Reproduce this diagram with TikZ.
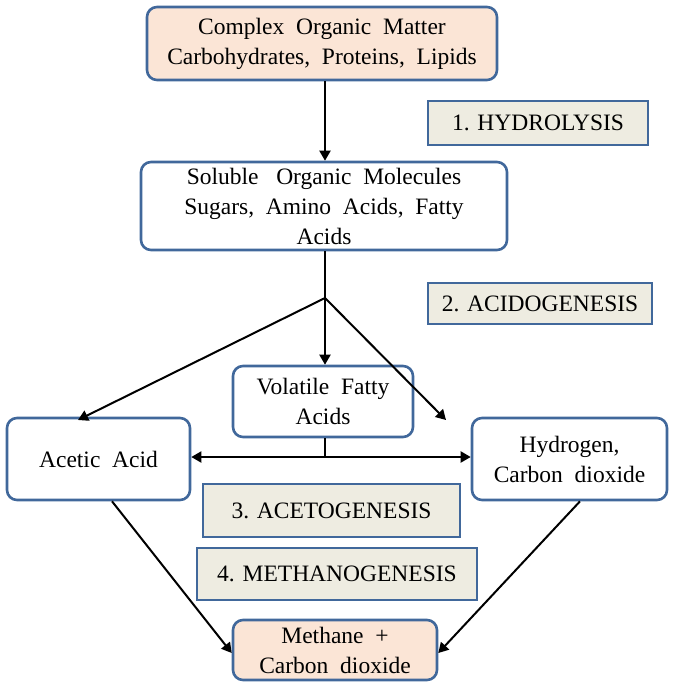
\documentclass[tikz,border=0pt]{standalone}
\usepackage{fontspec}
\setmainfont{Liberation Serif}
\usetikzlibrary{arrows.meta}
\definecolor{boxblue}{HTML}{41689B}
\definecolor{peach}{HTML}{FBE5D6}
\definecolor{stagebg}{HTML}{EEECE1}
\tikzset{
  rbox/.style={draw=boxblue, line width=2.6pt, rounded corners=10pt, align=center,
    font=\fontsize{23.5}{30}\selectfont, inner sep=0pt},
  stagebox/.style={draw=boxblue, line width=2.6pt, fill=stagebg, align=center,
    font=\fontsize{23.5}{28}\selectfont, inner sep=0pt},
  flow/.style={line width=2pt, -{Triangle[length=10pt,width=11pt]}},
  plain/.style={line width=2pt}
}
\begin{document}
\begin{tikzpicture}[x=1pt,y=-1pt]
\useasboundingbox (0,0) rectangle (677,686);
% process boxes
\node[rbox, fill=peach, minimum width=350pt, minimum height=73pt] (com) at (322,43.5)
  {Complex\ \ Organic\ \ Matter\\Carbohydrates,\ \ Proteins,\ \ Lipids};
\node[rbox, fill=white, minimum width=366pt, minimum height=88pt] (sol) at (324,206)
  {Soluble\ \ \ Organic\ \ Molecules\\Sugars,\ \ Amino\ \ Acids,\ \ Fatty\\Acids};
\node[rbox, fill=white, minimum width=180pt, minimum height=71pt] (vfa) at (323,401.5)
  {Volatile\ \ Fatty\\Acids};
\node[rbox, fill=white, minimum width=183pt, minimum height=82pt] (ace) at (98.5,459)
  {Acetic\ \ Acid};
\node[rbox, fill=white, minimum width=195pt, minimum height=82pt] (hyd) at (569.5,459)
  {Hydrogen,\\Carbon\ \ dioxide};
\node[rbox, fill=peach, minimum width=204pt, minimum height=60pt] (met) at (335,650)
  {Methane\ \ +\\Carbon\ \ dioxide};
% stage labels
\node[stagebox, minimum width=220pt, minimum height=44pt] (s1) at (538,123) {1. HYDROLYSIS};
\node[stagebox, minimum width=224pt, minimum height=41pt] (s2) at (540,303.5) {2. ACIDOGENESIS};
\node[stagebox, minimum width=257pt, minimum height=53pt] (s3) at (331.5,510.5) {3. ACETOGENESIS};
\node[stagebox, minimum width=280pt, minimum height=52pt] (s4) at (337,574) {4. METHANOGENESIS};
% connectors
\coordinate (br) at (325,298);
\coordinate (jn) at (325,457);
\draw[flow] (com.south -| br) -- (sol.north -| br);
\draw[plain] (sol.south -| br) -- (br);
\draw[flow] (br) -- (vfa.north -| br);
\draw[flow] (br) -- (78,420);
\draw[flow] (br) -- (446,420);
\draw[plain] (vfa.south -| jn) -- (jn);
\draw[flow] (jn) -- (ace.east |- jn);
\draw[flow] (jn) -- (hyd.west |- jn);
\draw[flow] (ace.south -| 112,0) -- (met.west |- 0,653);
\draw[flow] (hyd.south -| 580,0) -- (met.east |- 0,653);
\end{tikzpicture}
\end{document}
